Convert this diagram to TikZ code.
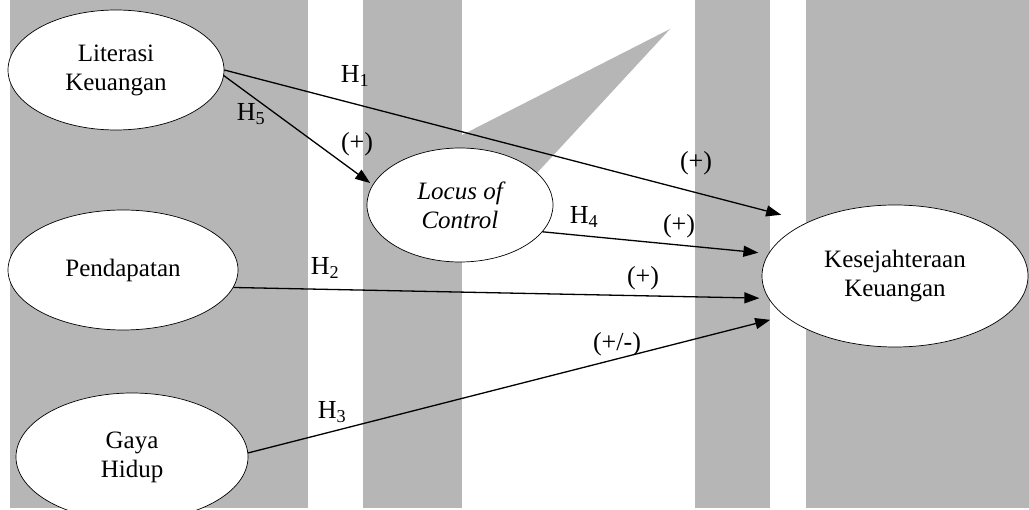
\documentclass[tikz,border=0pt]{standalone}
\usepackage{fontspec}
\setmainfont{Liberation Serif}
\usepackage{xcolor}
\usetikzlibrary{arrows.meta,shapes.geometric}
\definecolor{wmgray}{RGB}{182,182,182}

\begin{document}
\begin{tikzpicture}[
  x=1pt, y=-1pt,
  construct/.style={draw, ellipse, fill=white, line width=0.7pt, inner sep=0pt, align=center, font=\fontsize{25}{29}\selectfont},
  link/.style={-{Triangle[length=15pt,width=11pt]}, line width=1.3pt},
  hlabel/.style={inner sep=0pt, font=\fontsize{26}{28}\selectfont}
]
  \useasboundingbox (0,0) rectangle (1029,510);
  % background stripes
  \fill[white] (0,0) rectangle (1029,510);
  \fill[wmgray] (10,0) rectangle (308,508);
  \fill[wmgray] (363,0) rectangle (462,508);
  \fill[wmgray] (695,0) rectangle (770,508);
  \fill[wmgray] (806,0) rectangle (1029,508);
  \fill[wmgray] (670,29) -- (462,135) -- (462,200) -- (512,200) -- cycle;

  \node[construct, minimum width=216pt, minimum height=120pt] (lk) at (116,70) {Literasi\\Keuangan};
  \node[construct, minimum width=230pt, minimum height=120pt] (pend) at (123,270) {Pendapatan};
  \node[construct, minimum width=232pt, minimum height=128pt] (gaya) at (132,457) {Gaya\\Hidup};
  \node[construct, minimum width=186pt, minimum height=114pt, font=\fontsize{25}{29}\selectfont\itshape] (loc) at (460,205) {Locus of\\Control};
  \node[construct, minimum width=266pt, minimum height=142pt] (kk) at (895,276) {Kesejahteraan\\Keuangan};

  \draw[link, shorten >=28pt] (lk.east) -- (kk.148);
  \draw[link, shorten >=3pt] (lk.-3) -- (loc.167);
  \draw[link, shorten >=10pt] (loc.-18) -- (kk.170);
  \draw[link, shorten >=9pt] (pend.-9) -- (kk.190);
  \draw[link, shorten >=15pt] (gaya.2) -- (kk.200);

  \node[hlabel] (h1) at (355,76) {H\textsubscript{1}};
  \node[hlabel] (h5) at (251,114) {H\textsubscript{5}};
  \node[hlabel] (h4) at (584,217) {H\textsubscript{4}};
  \node[hlabel] (h2) at (325,268) {H\textsubscript{2}};
  \node[hlabel] (h3) at (332,412) {H\textsubscript{3}};
  \node[hlabel] (s5) at (357,144) {(+)};
  \node[hlabel] (s1) at (696,163) {(+)};
  \node[hlabel] (s4) at (679,226) {(+)};
  \node[hlabel] (s2) at (643,278) {(+)};
  \node[hlabel] (s3) at (617,344) {(+/-)};
\end{tikzpicture}
\end{document}
